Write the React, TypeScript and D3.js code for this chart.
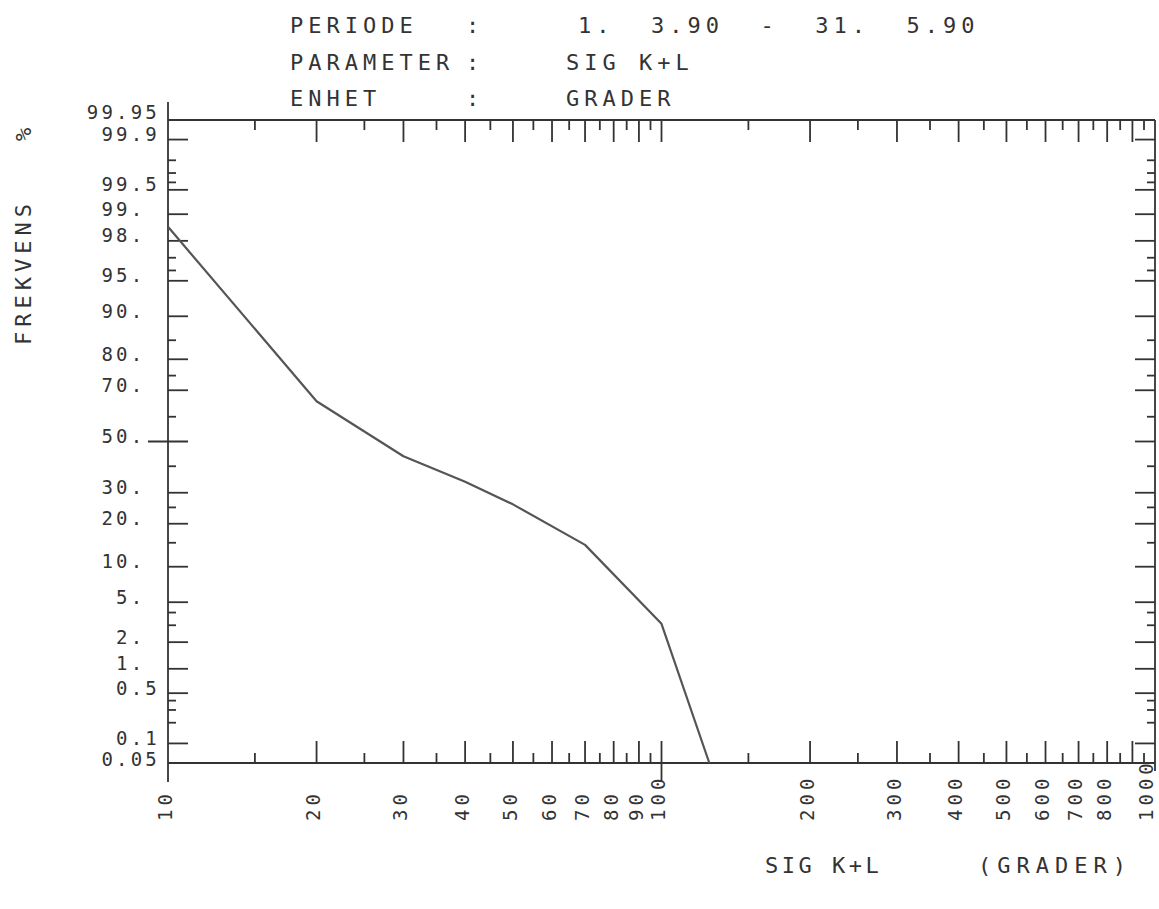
import React, { useEffect, useRef } from "react";
import * as d3 from "d3";

// frequency curve (x = SIG K+L in grader, y = cumulative frequency in %)
const sigKL = [10, 20, 30, 40, 50, 70, 100, 125];
const frekvens = [98.6, 66, 44, 34, 26, 14.5, 3.1, 0.05];

const yTickValues = [99.95, 99.9, 99.5, 99, 98, 95, 90, 80, 70, 50, 30, 20, 10, 5, 2, 1, 0.5, 0.1, 0.05];
const yTickLabels = ["99.95", "99.9", "99.5", "99.", "98.", "95.", "90.", "80.", "70.", "50.", "30.", "20.", "10.", "5.", "2.", "1.", "0.5", "0.1", "0.05"];
const yMinorTicks = [99.8, 99.7, 99.6, 97, 96, 85, 75, 60, 40, 25, 15, 4, 3, 0.4, 0.3, 0.2];

const xMajorTicks = [20, 30, 40, 50, 60, 70, 80, 90, 100, 200, 300, 400, 500, 600, 700, 800, 900];
const xMinorTicks = [15, 25, 35, 45, 55, 65, 75, 85, 95, 150, 250, 350, 450, 550, 650, 750, 850, 950];
const xTickLabels = [10, 20, 30, 40, 50, 60, 70, 80, 90, 100, 200, 300, 400, 500, 600, 700, 800, 1000];

const headerKeys = ["PERIODE", "PARAMETER", "ENHET"];
const headerValues = ["1.  3.90  -  31.  5.90", "SIG K+L", "GRADER"];

// inverse normal cdf (Acklam)
function probit(p: number): number {
  const a = [-39.69683028665376, 220.9460984245205, -275.9285104469687, 138.357751867269, -30.66479806614716, 2.506628277459239];
  const b = [-54.47609879822406, 161.5858368580409, -155.6989798598866, 66.80131188771972, -13.28068155288572];
  const c = [-0.007784894002430293, -0.3223964580411365, -2.400758277161838, -2.549732539343734, 4.374664141464968, 2.938163982698783];
  const d = [0.007784695709041462, 0.3224671290700398, 2.445134137142996, 3.754408661907416];
  const lo = 0.02425;
  if (p < lo) {
    const q = Math.sqrt(-2 * Math.log(p));
    return (((((c[0] * q + c[1]) * q + c[2]) * q + c[3]) * q + c[4]) * q + c[5]) / ((((d[0] * q + d[1]) * q + d[2]) * q + d[3]) * q + 1);
  }
  if (p > 1 - lo) {
    const q = Math.sqrt(-2 * Math.log(1 - p));
    return -(((((c[0] * q + c[1]) * q + c[2]) * q + c[3]) * q + c[4]) * q + c[5]) / ((((d[0] * q + d[1]) * q + d[2]) * q + d[3]) * q + 1);
  }
  const q = p - 0.5;
  const r = q * q;
  return ((((((a[0] * r + a[1]) * r + a[2]) * r + a[3]) * r + a[4]) * r + a[5]) * q) / (((((b[0] * r + b[1]) * r + b[2]) * r + b[3]) * r + b[4]) * r + 1);
}

const App = () => {
  const svgRef = useRef<SVGSVGElement>(null);

  useEffect(() => {
    const width = 1159;
    const height = 909;
    const left = 168;
    const right = 1155;
    const top = 120;
    const bottom = 763;
    const ink = "#333";
    const mono = "'DejaVu Sans Mono', monospace";

    const svg = d3.select(svgRef.current);
    svg.selectAll("*").remove();
    svg.attr("width", width).attr("height", height);

    const x = d3.scaleLog().domain([10, 1000]).range([left, right]);
    const z = d3.scaleLinear().domain([probit(0.0005), probit(0.9995)]).range([bottom, top]);
    const y = (pct: number) => z(probit(pct / 100));

    const axes = svg.append("g").attr("stroke", ink).attr("stroke-width", 1.8).attr("fill", "none");

    // frame
    axes.append("line").attr("x1", left).attr("x2", left).attr("y1", top - 18).attr("y2", bottom + 19);
    axes.append("line").attr("x1", right).attr("x2", right).attr("y1", top).attr("y2", bottom + 8);
    axes.append("line").attr("x1", left).attr("x2", right).attr("y1", top).attr("y2", top);
    axes.append("line").attr("x1", left).attr("x2", right).attr("y1", bottom).attr("y2", bottom);

    // y ticks, left and right both pointing inward
    const yMajorInner = yTickValues.filter((v) => v !== 99.95 && v !== 0.05);
    const yTick = (vals: number[], len: number) => {
      axes.selectAll(null).data(vals).join("line")
        .attr("x1", (d) => (d === 50 && len > 10 ? left - 20 : left)).attr("x2", left + len)
        .attr("y1", (d) => y(d)).attr("y2", (d) => y(d));
      axes.selectAll(null).data(vals).join("line")
        .attr("x1", right).attr("x2", right - len)
        .attr("y1", (d) => y(d)).attr("y2", (d) => y(d));
    };
    yTick(yMajorInner, 20);
    yTick(yMinorTicks, 8);

    // x ticks, bottom pointing up, top pointing down
    const xTick = (vals: number[], len: number) => {
      axes.selectAll(null).data(vals).join("line")
        .attr("x1", (d) => x(d)).attr("x2", (d) => x(d))
        .attr("y1", (d) => (d === 100 ? bottom + 19 : bottom)).attr("y2", bottom - len);
      axes.selectAll(null).data(vals).join("line")
        .attr("x1", (d) => x(d)).attr("x2", (d) => x(d))
        .attr("y1", top).attr("y2", top + len);
    };
    xTick(xMajorTicks, 22);
    xTick(xMinorTicks, 10);

    // curve
    const line = d3.line<number>()
      .x((_, i) => x(sigKL[i]))
      .y((d) => y(d));
    svg.append("path")
      .datum(frekvens)
      .attr("d", line)
      .attr("fill", "none")
      .attr("stroke", "#555")
      .attr("stroke-width", 2.2)
      .attr("stroke-linejoin", "round");

    const txt = svg.append("g").attr("fill", ink).attr("font-family", mono);

    // y labels
    txt.selectAll(null).data(yTickValues).join("text")
      .attr("x", (d, i) => (yTickLabels[i].endsWith(".") ? 160 - 14.6 : 160))
      .attr("y", (d) => y(d) + (d === 99.95 ? -1 : d === 0.05 ? 2.5 : 1.5))
      .attr("text-anchor", "end")
      .attr("font-size", 19)
      .attr("letter-spacing", 3.2)
      .text((d, i) => yTickLabels[i]);

    // x labels, rotated, read bottom-to-top
    txt.selectAll(null).data(xTickLabels).join("text")
      .attr("transform", (d) => `translate(${Math.min(x(d) - 3, 1146)},821) rotate(-90)`)
      .attr("dy", "0.36em")
      .attr("font-size", 19)
      .attr("letter-spacing", 4)
      .text((d) => String(d));

    // header
    headerKeys.forEach((k, i) => {
      const by = 33 + i * 36.5;
      txt.append("text").attr("x", 290).attr("y", by).attr("font-size", 22).attr("letter-spacing", 5).text(k);
      txt.append("text").attr("x", 466).attr("y", by).attr("font-size", 22).text(":");
      txt.append("text").attr("x", i === 0 ? 578 : 566).attr("y", by).attr("font-size", 22).attr("letter-spacing", 5)
        .attr("xml:space", "preserve").text(headerValues[i]);
    });

    // axis titles
    txt.append("text").attr("x", 765).attr("y", 873).attr("font-size", 22).attr("letter-spacing", 3.5).text("SIG K+L");
    txt.append("text").attr("x", 978).attr("y", 873).attr("font-size", 22).attr("letter-spacing", 6).text("(GRADER)");
    txt.append("text").attr("transform", "translate(31,345) rotate(-90)").attr("font-size", 22).attr("letter-spacing", 5).text("FREKVENS");
    txt.append("text").attr("transform", "translate(31,141) rotate(-90)").attr("font-size", 22).text("%");
  }, []);

  return <svg ref={svgRef} style={{ position: "absolute", left: 0, top: 0, background: "#fff" }}></svg>;
};

export default App;
